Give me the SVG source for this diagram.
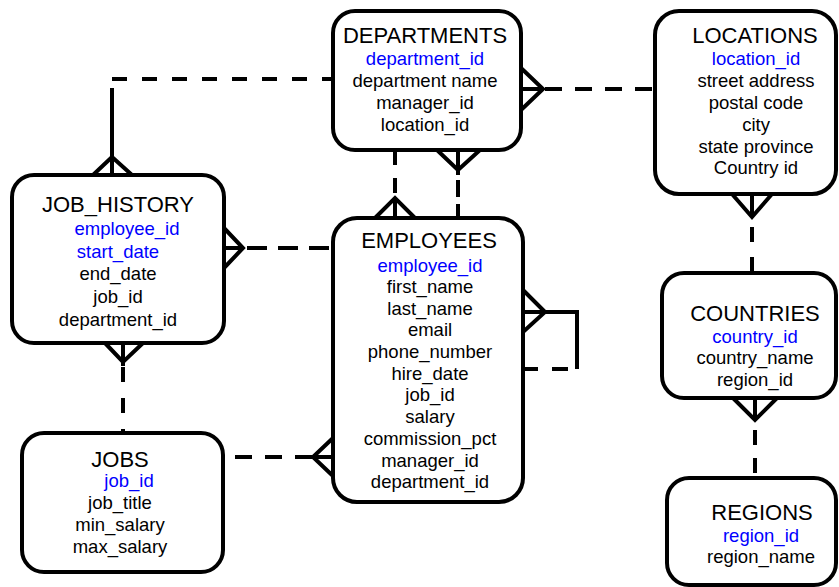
<svg xmlns="http://www.w3.org/2000/svg" width="839" height="587" viewBox="0 0 839 587">
<style>
.box{fill:#fff;stroke:#000;stroke-width:4}
.ln{fill:none;stroke:#000;stroke-width:4}
.t{font-family:"Liberation Sans",Arial,sans-serif;font-size:22px;fill:#000;text-anchor:middle}
.f{font-family:"Liberation Sans",Arial,sans-serif;font-size:18.5px;fill:#000;text-anchor:middle}
.k{fill:#0000ff}
</style>
<rect width="839" height="587" fill="#fff"/>
<g id="connectors">
  <!-- DEPARTMENTS - JOB_HISTORY -->
  <line class="ln" x1="112" y1="79" x2="333" y2="79" stroke-dasharray="15 15"/>
  <path class="ln" d="M112 88 V175 M93 175 L112 157 L132 175"/>
  <!-- DEPARTMENTS - LOCATIONS -->
  <path class="ln" d="M521 68 L543 89 L521 110 M521 89 H543"/>
  <line class="ln" x1="545" y1="89" x2="655" y2="89" stroke-dasharray="17 13"/>
  <!-- JOB_HISTORY - EMPLOYEES -->
  <path class="ln" d="M224 228 L243 248 L224 268 M224 248 H243"/>
  <line class="ln" x1="247" y1="248" x2="333" y2="248" stroke-dasharray="20 11"/>
  <!-- DEPARTMENTS - EMPLOYEES (left) -->
  <line class="ln" x1="395" y1="150" x2="395" y2="198" stroke-dasharray="15 13"/>
  <path class="ln" d="M395 198 V218 M375 218 L395 198 L415 218"/>
  <!-- DEPARTMENTS - EMPLOYEES (right) -->
  <path class="ln" d="M458 150 V175 M437 150 L458 170 L480 150"/>
  <line class="ln" x1="458" y1="180" x2="458" y2="218" stroke-dasharray="17 7"/>
  <!-- EMPLOYEES self -->
  <path class="ln" d="M523 290 L545 312 L523 332 M523 312 H577 V369"/>
  <line class="ln" x1="568" y1="369" x2="523" y2="369" stroke-dasharray="16 14"/>
  <!-- JOB_HISTORY - JOBS -->
  <path class="ln" d="M123 343 V366 M105 343 L123 362 L143 343"/>
  <line class="ln" x1="123" y1="367" x2="123" y2="433" stroke-dasharray="15 16"/>
  <!-- JOBS - EMPLOYEES -->
  <line class="ln" x1="235" y1="457" x2="313" y2="457" stroke-dasharray="17 13"/>
  <path class="ln" d="M313 457 H333 M333 438 L313 457 L333 476"/>
  <!-- LOCATIONS - COUNTRIES -->
  <path class="ln" d="M752 194 V217 M732 194 L752 217 L772 194"/>
  <line class="ln" x1="752" y1="227" x2="752" y2="273" stroke-dasharray="15 15"/>
  <!-- COUNTRIES - REGIONS -->
  <path class="ln" d="M755 398 V420 M733 398 L755 420 L777 398"/>
  <line class="ln" x1="755" y1="430" x2="755" y2="478" stroke-dasharray="15 13"/>
</g>
<g id="departments">
  <rect class="box" x="333" y="11" width="188" height="139" rx="22"/>
  <text class="t" x="425" y="43">DEPARTMENTS</text>
  <text class="f k" x="425" y="65">department_id</text>
  <text class="f" x="425" y="87">department name</text>
  <text class="f" x="425" y="109">manager_id</text>
  <text class="f" x="425" y="131">location_id</text>
</g>
<g id="locations">
  <rect class="box" x="655" y="11" width="181" height="183" rx="24"/>
  <text class="t" x="755" y="43">LOCATIONS</text>
  <text class="f k" x="756" y="65">location_id</text>
  <text class="f" x="756" y="87">street address</text>
  <text class="f" x="756" y="109">postal code</text>
  <text class="f" x="756" y="131">city</text>
  <text class="f" x="756" y="153">state province</text>
  <text class="f" x="756" y="174">Country id</text>
</g>
<g id="job_history">
  <rect class="box" x="12" y="175" width="212" height="168" rx="22"/>
  <text class="t" x="118" y="212">JOB_HISTORY</text>
  <text class="f k" x="127" y="235">employee_id</text>
  <text class="f k" x="118" y="258">start_date</text>
  <text class="f" x="118" y="280">end_date</text>
  <text class="f" x="118" y="303">job_id</text>
  <text class="f" x="118" y="326">department_id</text>
</g>
<g id="employees">
  <rect class="box" x="333" y="218" width="190" height="284" rx="24"/>
  <text class="t" x="429" y="248">EMPLOYEES</text>
  <text class="f k" x="430" y="272">employee_id</text>
  <text class="f" x="430" y="293">first_name</text>
  <text class="f" x="430" y="315">last_name</text>
  <text class="f" x="430" y="336">email</text>
  <text class="f" x="430" y="358">phone_number</text>
  <text class="f" x="430" y="380">hire_date</text>
  <text class="f" x="430" y="401">job_id</text>
  <text class="f" x="430" y="423">salary</text>
  <text class="f" x="430" y="445">commission_pct</text>
  <text class="f" x="430" y="467">manager_id</text>
  <text class="f" x="430" y="488">department_id</text>
</g>
<g id="jobs">
  <rect class="box" x="22" y="433" width="201" height="139" rx="22"/>
  <text class="t" x="120" y="467">JOBS</text>
  <text class="f k" x="129" y="487">job_id</text>
  <text class="f" x="120" y="509">job_title</text>
  <text class="f" x="120" y="531">min_salary</text>
  <text class="f" x="120" y="553">max_salary</text>
</g>
<g id="countries">
  <rect class="box" x="662" y="273" width="174" height="125" rx="22"/>
  <text class="t" x="755" y="321">COUNTRIES</text>
  <text class="f k" x="755" y="343">country_id</text>
  <text class="f" x="755" y="364">country_name</text>
  <text class="f" x="755" y="386">region_id</text>
</g>
<g id="regions">
  <rect class="box" x="667" y="478" width="169" height="107" rx="22"/>
  <text class="t" x="762" y="520">REGIONS</text>
  <text class="f k" x="761" y="542">region_id</text>
  <text class="f" x="761" y="563">region_name</text>
</g>
</svg>
